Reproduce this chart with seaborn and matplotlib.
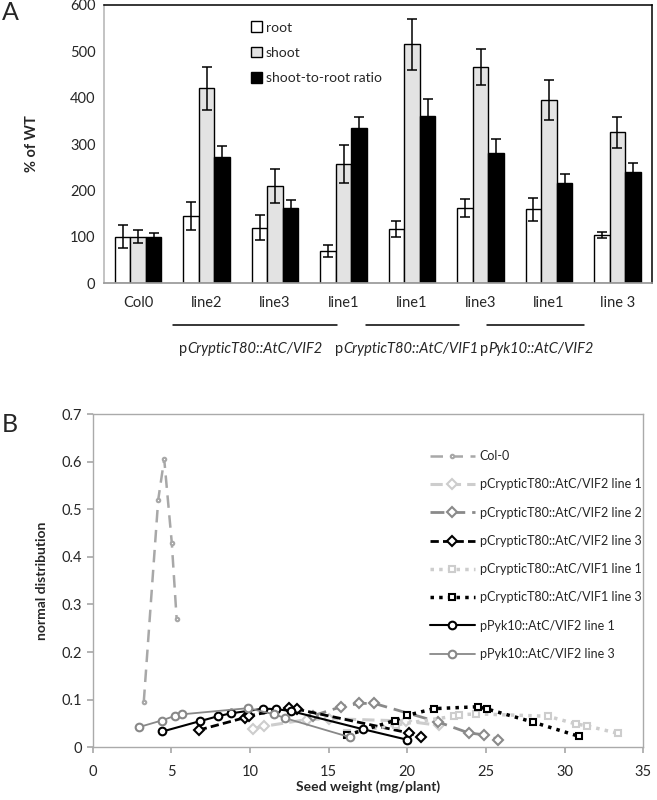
import numpy as np
import pandas as pd
import matplotlib.pyplot as plt
import seaborn as sns

sns.set_theme(style="white")
plt.rcParams['font.family'] = ['Lato', 'DejaVu Sans']

# -------- Panel A data --------
bar_ids = ["Col0", "VIF2_line2", "VIF2_line3", "VIF2_line1",
           "VIF1_line1", "VIF1_line3", "Pyk10_line1", "Pyk10_line3"]
tick_labels = ["Col0", "line2", "line3", "line1", "line1", "line3", "line1", "line 3"]
series_names = ["root", "shoot", "shoot-to-root ratio"]
root_vals = [100, 145, 120, 70, 116, 162, 159, 104]
root_err = [25, 30, 27, 13, 17, 19, 24, 7]
shoot_vals = [100, 420, 210, 257, 515, 466, 395, 325]
shoot_err = [14, 46, 37, 40, 55, 39, 44, 34]
ratio_vals = [100, 273, 163, 335, 361, 280, 217, 240]
ratio_err = [9, 23, 16, 23, 36, 31, 18, 18]
group_names = ["CrypticT80::AtC/VIF2", "CrypticT80::AtC/VIF1", "Pyk10::AtC/VIF2"]

# -------- Panel B data --------
col0_x = [3.25, 4.17, 4.55, 5.03, 5.34]
col0_y = [0.095, 0.52, 0.605, 0.43, 0.27]
v2l1_x = [10.2, 10.9, 13.6, 15.0, 19.9, 22.0]
v2l1_y = [0.039, 0.044, 0.058, 0.060, 0.055, 0.046]
v2l2_x = [14.0, 15.8, 16.95, 17.9, 21.97, 23.9, 24.9, 25.8]
v2l2_y = [0.066, 0.085, 0.092, 0.092, 0.053, 0.030, 0.026, 0.016]
v2l3_x = [6.74, 9.67, 9.94, 12.5, 12.97, 20.1, 20.9]
v2l3_y = [0.036, 0.062, 0.066, 0.082, 0.080, 0.030, 0.021]
v1l1_x = [16.2, 19.3, 22.95, 23.3, 24.4, 28.95, 30.7, 31.4, 33.4]
v1l1_y = [0.030, 0.047, 0.065, 0.068, 0.070, 0.065, 0.049, 0.045, 0.029]
v1l3_x = [16.15, 19.2, 20.0, 21.7, 24.5, 25.1, 27.97, 30.9]
v1l3_y = [0.025, 0.056, 0.067, 0.081, 0.085, 0.080, 0.053, 0.023]
pyk1_x = [4.44, 6.85, 7.96, 8.77, 10.86, 11.66, 12.6, 17.16, 19.96]
pyk1_y = [0.033, 0.055, 0.065, 0.071, 0.081, 0.080, 0.076, 0.038, 0.016]
pyk3_x = [2.92, 4.38, 5.24, 5.66, 9.88, 11.55, 12.25, 16.36]
pyk3_y = [0.042, 0.056, 0.066, 0.069, 0.082, 0.069, 0.061, 0.021]

fig = plt.figure(figsize=(6.57, 8), dpi=100)

# ================= Panel A =================
axA = fig.add_axes([0.158, 0.646, 0.834, 0.348])
df = pd.DataFrame({
    "id": bar_ids * 3,
    "series": sum([[s] * len(bar_ids) for s in series_names], []),
    "value": root_vals + shoot_vals + ratio_vals,
})
sns.barplot(data=df, x="id", y="value", hue="series", order=bar_ids,
            hue_order=series_names,
            palette=["white", "#e3e3e3", "black"], edgecolor="black",
            linewidth=1.0, width=0.68, errorbar=None, ax=axA)
errs = [root_err, shoot_err, ratio_err]
vals = [root_vals, shoot_vals, ratio_vals]
for cont, v, e in zip(axA.containers, vals, errs):
    xs = [p.get_x() + p.get_width() / 2 for p in cont.patches]
    axA.errorbar(xs, v, yerr=e, fmt="none", ecolor="black", elinewidth=1.1,
                 capsize=3.5, capthick=1.1)

axA.set_ylim(0, 600)
axA.set_xlim(-0.5, len(bar_ids) - 0.5)
axA.set_yticks(range(0, 601, 100))
axA.set_xticks(range(len(bar_ids)))
axA.set_xticklabels(tick_labels, fontsize=10.5)
axA.tick_params(axis="y", labelsize=10.5, length=0, pad=6)
axA.tick_params(axis="x", length=0, pad=9)
axA.set_xticks(np.arange(0.5, len(bar_ids) - 0.5, 1), minor=True)
axA.tick_params(axis="x", which="minor", length=4, color="#999999", direction="in")
axA.set_xlabel("")
axA.set_ylabel("% of WT", fontsize=10.5, fontweight="bold", labelpad=22)
for s in ["top", "right"]:
    axA.spines[s].set_color("black")
    axA.spines[s].set_linewidth(1.1)
axA.spines["left"].set_color("#bbbbbb")
axA.spines["bottom"].set_color("#999999")

leg = axA.legend(loc="upper left", bbox_to_anchor=(0.245, 0.985), frameon=False,
                 fontsize=10, handlelength=0.8, handleheight=0.8,
                 handletextpad=0.3, labelspacing=0.95)

# group underlines and labels ("p" upright, the rest italic, centred together)
trans = axA.get_xaxis_transform()
spans = [(0.51, 2.91), (3.33, 4.69), (5.1, 6.51)]
centres = [1.64, 3.92, 5.82]
renderer = fig.canvas.get_renderer()
for (x0, x1), xc, name in zip(spans, centres, group_names):
    axA.plot([x0, x1], [-0.151, -0.151], color="black", lw=1.1,
             transform=trans, clip_on=False)
    t1 = axA.text(0, -0.238, "p", transform=trans, ha="left", va="center",
                  fontsize=10.5)
    t2 = axA.text(0, -0.238, name, transform=trans, ha="left", va="center",
                  fontsize=10.5, fontstyle="italic")
    w1 = t1.get_window_extent(renderer).width
    w2 = t2.get_window_extent(renderer).width
    cpx = axA.transData.transform((xc, 0))[0]
    left = cpx - (w1 + w2) / 2
    inv = axA.transData.inverted()
    t1.set_x(inv.transform((left, 0))[0])
    t2.set_x(inv.transform((left + w1, 0))[0])

fig.text(0.003, 0.985, "A", fontsize=18, va="center", ha="left")

# ================= Panel B =================
axB = fig.add_axes([0.141, 0.066, 0.838, 0.4165])
series_b = [
    ("Col-0", col0_x, col0_y, "#a8a8a8", (0, (5, 3)), "o", 2.5, 1.8),
    ("pCrypticT80::AtC/VIF2 line 1", v2l1_x, v2l1_y, "#cdcdcd", (0, (4, 2)), "D", 5, 2.2),
    ("pCrypticT80::AtC/VIF2 line 2", v2l2_x, v2l2_y, "#8a8a8a", (0, (5, 2.5)), "D", 5, 2.0),
    ("pCrypticT80::AtC/VIF2 line 3", v2l3_x, v2l3_y, "black", (0, (3, 1.5)), "D", 5, 2.0),
    ("pCrypticT80::AtC/VIF1 line 1", v1l1_x, v1l1_y, "#cdcdcd", (0, (1, 1.5)), "s", 5, 2.5),
    ("pCrypticT80::AtC/VIF1 line 3", v1l3_x, v1l3_y, "black", (0, (1, 1.5)), "s", 5, 2.5),
    ("pPyk10::AtC/VIF2 line 1", pyk1_x, pyk1_y, "black", "-", "o", 5.5, 1.5),
    ("pPyk10::AtC/VIF2 line 3", pyk3_x, pyk3_y, "#888888", "-", "o", 5.5, 1.3),
]
for label, xs, ys, col, ls, mk, ms, lw in series_b:
    sns.lineplot(x=xs, y=ys, ax=axB, color=col, linestyle=ls, linewidth=lw,
                 marker=mk, markersize=ms, markerfacecolor="white",
                 markeredgecolor=col, markeredgewidth=1.5,
                 label=label, errorbar=None, sort=False)

axB.set_xlim(0, 35)
axB.set_ylim(0, 0.7)
axB.set_xticks(range(0, 36, 5))
axB.set_yticks(np.arange(0, 0.71, 0.1))
axB.set_yticklabels(["0"] + [f"{v:.1f}" for v in np.arange(0.1, 0.71, 0.1)])
axB.tick_params(axis="both", labelsize=10.5, length=4, color="#aaaaaa",
                direction="out", bottom=True, left=True)
axB.tick_params(axis="x", pad=9)
for s in axB.spines.values():
    s.set_color("#aaaaaa")
    s.set_linewidth(1.0)
axB.set_xlabel("Seed weight (mg/plant)", fontsize=10, fontweight="bold", labelpad=1)
axB.set_ylabel("normal distribution", fontsize=10, fontweight="bold", labelpad=10)
axB.legend(loc="upper left", bbox_to_anchor=(0.592, 0.925), frameon=False,
           fontsize=9, handlelength=3.6, handletextpad=0.4, labelspacing=1.3)

fig.text(0.003, 0.469, "B", fontsize=18, va="center", ha="left")

plt.savefig("out.png", dpi=100)
